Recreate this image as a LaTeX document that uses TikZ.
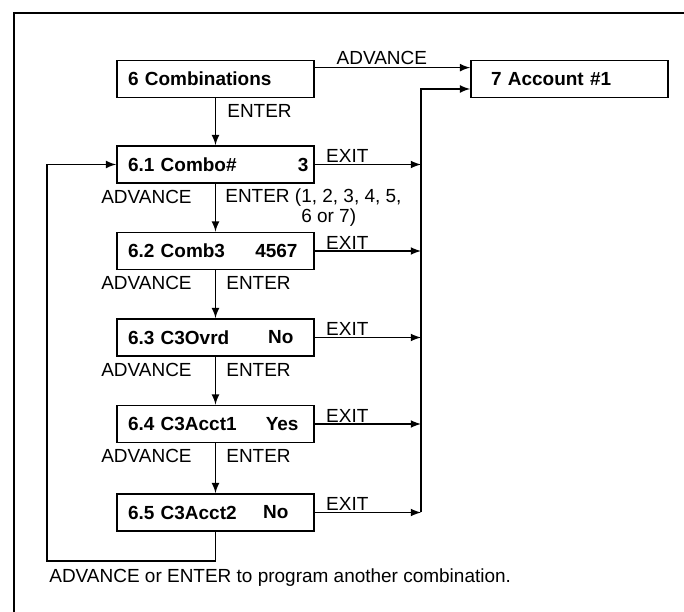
\documentclass[tikz,border=0pt]{standalone}
\usepackage{fontspec}
\setmainfont{Liberation Sans}
\usepackage{tikz}
\usetikzlibrary{calc}
\usetikzlibrary{arrows, shapes}

\begin{document}
\begin{tikzpicture}[scale = 1, >=latex]

\tikzstyle{menu_box}=[rectangle, draw = black, line width = 1, font = \fontsize{10.8}{13}\selectfont\bfseries, text width = 3.5cm, align = left, inner xsep = 0.22cm, inner ysep = 0, minimum height = 0.74cm]
\tikzstyle{menu_val}=[anchor = east, inner sep = 0, font = \fontsize{10.8}{13}\selectfont\bfseries]
\tikzstyle{key_lbl}=[inner sep = 0, font = \fontsize{10.8}{8.6}\selectfont]

\useasboundingbox (0, 0) rectangle (13.68, 12.24);

% frame
\draw[line width = 0.8] (0.28, 0) -- (0.28, 11.98) -- (13.68, 11.98);

\coordinate (m6) at (4.31, 10.66);
\coordinate (m61) at (4.31, 8.95);
\coordinate (m62) at (4.31, 7.22);
\coordinate (m63) at (4.31, 5.49);
\coordinate (m64) at (4.31, 3.76);
\coordinate (m65) at (4.31, 1.99);
\coordinate (m7) at (11.39, 10.66);
\coordinate (ex) at (8.42, 10.46);
\coordinate (ret) at (0.94, 1.02);

\path
(m6) node[menu_box](b6) {6 Combinations}
(m61) node[menu_box](b61) {6.1 Combo\#}
(m62) node[menu_box](b62) {6.2 Comb3}
(m63) node[menu_box](b63) {6.3 C3Ovrd}
(m64) node[menu_box](b64) {6.4 C3Acct1}
(m65) node[menu_box](b65) {6.5 C3Acct2}
(m7) node[menu_box, inner xsep = 0.4cm, text width = 3.14cm](b7) {7 Account \#1};

\path
($(b61.east) + (-0.12, 0)$) node[menu_val](v61) {3}
($(b62.east) + (-0.34, 0)$) node[menu_val](v62) {4567}
($(b63.east) + (-0.42, 0)$) node[menu_val](v63) {No}
($(b64.east) + (-0.32, 0)$) node[menu_val](v64) {Yes}
($(b65.east) + (-0.52, 0)$) node[menu_val](v65) {No};

\coordinate (adv) at ($(b6.north east) + (0, -0.16)$);

%labels
\path
($(adv) + (1.34, 0.06)$) node[key_lbl, anchor = south](l_adv) {ADVANCE}
($(b6.south) + (0.23, -0.25)$) node[key_lbl, anchor = west](l_ent) {ENTER}
($(b61.south) + (-0.47, -0.26)$) node[key_lbl, anchor = east](a1) {ADVANCE}
($(b62.south) + (-0.47, -0.26)$) node[key_lbl, anchor = east](a2) {ADVANCE}
($(b63.south) + (-0.47, -0.26)$) node[key_lbl, anchor = east](a3) {ADVANCE}
($(b64.south) + (-0.47, -0.26)$) node[key_lbl, anchor = east](a4) {ADVANCE}
($(b61.south) + (0.19, -0.10)$) node[key_lbl, anchor = north west, align = left](e1) {ENTER (1, 2, 3, 4, 5,\\\phantom{ENTER (}6 or 7)}
($(b62.south) + (0.21, -0.26)$) node[key_lbl, anchor = west](e2) {ENTER}
($(b63.south) + (0.21, -0.26)$) node[key_lbl, anchor = west](e3) {ENTER}
($(b64.south) + (0.21, -0.26)$) node[key_lbl, anchor = west](e4) {ENTER}
($(b61.east) + (0.22, 0.03)$) node[key_lbl, anchor = south west](x1) {EXIT}
($(b62.east) + (0.22, 0.03)$) node[key_lbl, anchor = south west](x2) {EXIT}
($(b63.east) + (0.22, 0.03)$) node[key_lbl, anchor = south west](x3) {EXIT}
($(b64.east) + (0.22, 0.03)$) node[key_lbl, anchor = south west](x4) {EXIT}
($(b65.east) + (0.22, 0.03)$) node[key_lbl, anchor = south west](x5) {EXIT}
(0.98, 0.68) node[key_lbl, anchor = west](note) {ADVANCE or ENTER to program another combination.};

%arrows
\draw[->, line width = 1, color = black] (adv) to (adv -| b7.west);
\draw[->, line width = 1, color = black] (b6.south) to (b61.north);
\draw[->, line width = 1, color = black] (b61.south) to (b62.north);
\draw[->, line width = 1, color = black] (b62.south) to (b63.north);
\draw[->, line width = 1, color = black] (b63.south) to (b64.north);
\draw[->, line width = 1, color = black] (b64.south) to (b65.north);

%exit lines
\draw[->, line width = 1, color = black] (b61.east) to (ex |- b61.east);
\draw[->, line width = 1, color = black] (b62.east) to (ex |- b62.east);
\draw[->, line width = 1, color = black] (b63.east) to (ex |- b63.east);
\draw[->, line width = 1, color = black] (b64.east) to (ex |- b64.east);
\draw[->, line width = 1, color = black] (b65.east) to (ex |- b65.east);
\draw[->, line width = 1, color = black] (ex |- b65.east) -- (ex) -- (ex -| b7.west);

%loop back
\draw[->, line width = 1, color = black] (b65.south) |- (ret) |- (b61.west);

\end{tikzpicture}
\end{document}
